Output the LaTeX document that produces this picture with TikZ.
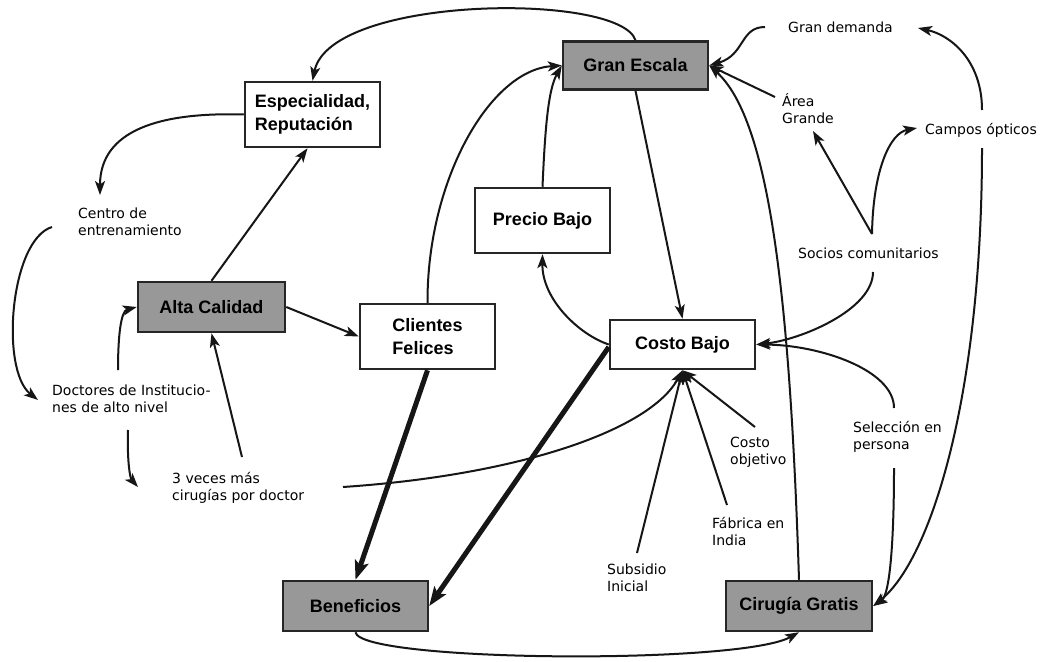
\documentclass[tikz,border=0pt]{standalone}
\usepackage{fontspec}
\setmainfont{DejaVu Sans}
\newfontfamily\boxfont{Liberation Sans}
\usetikzlibrary{arrows.meta}
\definecolor{boxgray}{RGB}{152,152,152}
\definecolor{ink}{RGB}{22,22,22}
\definecolor{edge}{RGB}{38,38,38}

\begin{document}
\begin{tikzpicture}[x=1pt,y=-1pt,
  box/.style={draw=edge, line width=2.5pt, inner sep=0pt, align=left,
    font=\boxfont\bfseries\fontsize{18}{23}\selectfont},
  hot/.style={box, fill=boxgray, minimum width=145pt, minimum height=48pt},
  plain/.style={box, fill=white, minimum width=135pt, minimum height=65pt},
  lbl/.style={anchor=west, inner sep=0pt, align=left, font=\fontsize{14}{17}\selectfont},
  link/.style={draw=ink, line width=2pt, -{Stealth[length=14pt,width=10pt,inset=3.5pt]}},
  heavy/.style={draw=ink, line width=5pt, -{Stealth[length=19pt,width=14pt,inset=4pt]}},
]
\path[use as bounding box, fill=white] (0,0) rectangle (1051,661);

% main boxes
\node[hot] (ge) at (635.5,65.5) {Gran Escala};
\node[plain] (esp) at (312.5,114.5) {Especialidad,\\Reputación};
\node[plain] (pb) at (542.5,220.5) {Precio Bajo};
\node[plain] (cf) at (427.5,336.5) {Clientes\\Felices};
\node[box, fill=white, minimum width=145pt, minimum height=49pt] (cb) at (682.5,344.5) {Costo Bajo};
\node[hot, minimum width=147pt, minimum height=50pt] (ac) at (211.5,307) {Alta Calidad};
\node[hot, minimum height=50pt] (ben) at (355.5,606) {Beneficios};
\node[hot, minimum width=146pt, minimum height=50pt] (cg) at (799,606) {Cirugía Gratis};

% free labels
\node[lbl] (gd) at (788,27) {Gran demanda};
\node[lbl] (area) at (782,109) {Área\\Grande};
\node[lbl] (campos) at (925,130) {Campos ópticos};
\node[lbl] (socios) at (798,253) {Socios comunitarios};
\node[lbl] (centro) at (78,222) {Centro de\\entrenamiento};
\node[lbl] (doct) at (52,399) {Doctores de Institucio-\\nes de alto nivel};
\node[lbl] (tres) at (172,488) {3 veces más\\cirugías por doctor};
\node[lbl] (cobj) at (730,452) {Costo\\objetivo};
\node[lbl] (fab) at (712,531) {Fábrica en\\India};
\node[lbl] (subs) at (607,578) {Subsidio\\Inicial};
\node[lbl] (sel) at (853,437) {Selección en\\persona};

% connector ends beside the labels
\coordinate (centro-in) at (100,195);
\coordinate (centro-out) at (52,227);
\coordinate (doct-in) at (38,400);
\coordinate (doct-up) at (118,370);
\coordinate (doct-down) at (128,430);
\coordinate (tres-in) at (138,487);
\coordinate (tres-up) at (242,457);
\coordinate (tres-right) at (343,487);
\coordinate (gd-out) at (765,27);
\coordinate (gd-in) at (918,28);
\coordinate (area-out) at (775,97);
\coordinate (area-in) at (813,131);
\coordinate (campos-in) at (917,128);
\coordinate (campos-up) at (982,110);
\coordinate (campos-down) at (982,148);
\coordinate (socios-up) at (872,234);
\coordinate (socios-down) at (873,272);
\coordinate (sel-up) at (894,408);
\coordinate (sel-down) at (894,468);
\coordinate (cobj-out) at (755,427);
\coordinate (fab-out) at (727,505);
\coordinate (subs-out) at (637,553);

% left loop
\draw[link] (ge.north) .. controls (620,-8) and (330,-5) .. (esp.north);
\draw[link] (esp.west) .. controls (160,112) and (100,130) .. (centro-in);
\draw[link] (ac.north) -- ([xshift=-5pt]esp.south);
\draw[link] (centro-out) .. controls (10,240) and (0,370) .. (doct-in);
\draw[link] (doct-up) .. controls (118,335) and (121,311) .. (ac.west);
\draw[link] (doct-down) .. controls (127,460) and (130,478) .. (tres-in);
\draw[link] (tres-up) -- (ac.south);
\draw[link] (tres-right) .. controls (520,475) and (650,430) .. (cb.south);
\draw[link] (ac.east) -- (cf.west);

% centre
\draw[link] (cf.north) .. controls (427,180) and (490,70) .. (ge.west);
\draw[link] (pb.north) .. controls (545,130) and (548,90) .. (ge.west);
\draw[link] (ge.south) -- (cb.north);
\draw[link] (cb.west) .. controls (580,335) and (542,300) .. (pb.south);
\draw[heavy] (cf.south) -- (ben.north);
\draw[heavy] ([yshift=-2.5pt]cb.west) -- (ben.east);
\draw[link] (ben.south) .. controls (360,662) and (740,665) .. (cg.south);

% inputs to Costo Bajo from below
\draw[link] (cobj-out) -- (cb.south);
\draw[link] (fab-out) -- (cb.south);
\draw[link] (subs-out) -- (cb.south);

% right side
\draw[link] (cg.north) .. controls (790,300) and (770,120) .. (ge.east);
\draw[link] (gd-out) .. controls (740,27) and (745,55) .. (ge.east);
\draw[link] (area-out) -- (ge.east);
\draw[link] (socios-up) -- (area-in);
\draw[link] (socios-up) .. controls (873,170) and (890,133) .. (campos-in);
\draw[link] (socios-down) .. controls (873,310) and (800,340) .. (cb.east);
\draw[link] (sel-up) .. controls (894,370) and (820,345) .. (cb.east);
\draw[link] (sel-down) .. controls (894,540) and (890,595) .. (cg.east);
\draw[link] (campos-up) .. controls (982,60) and (950,35) .. (gd-in);
\draw[link] (campos-down) .. controls (982,400) and (930,560) .. (cg.east);
\end{tikzpicture}
\end{document}
